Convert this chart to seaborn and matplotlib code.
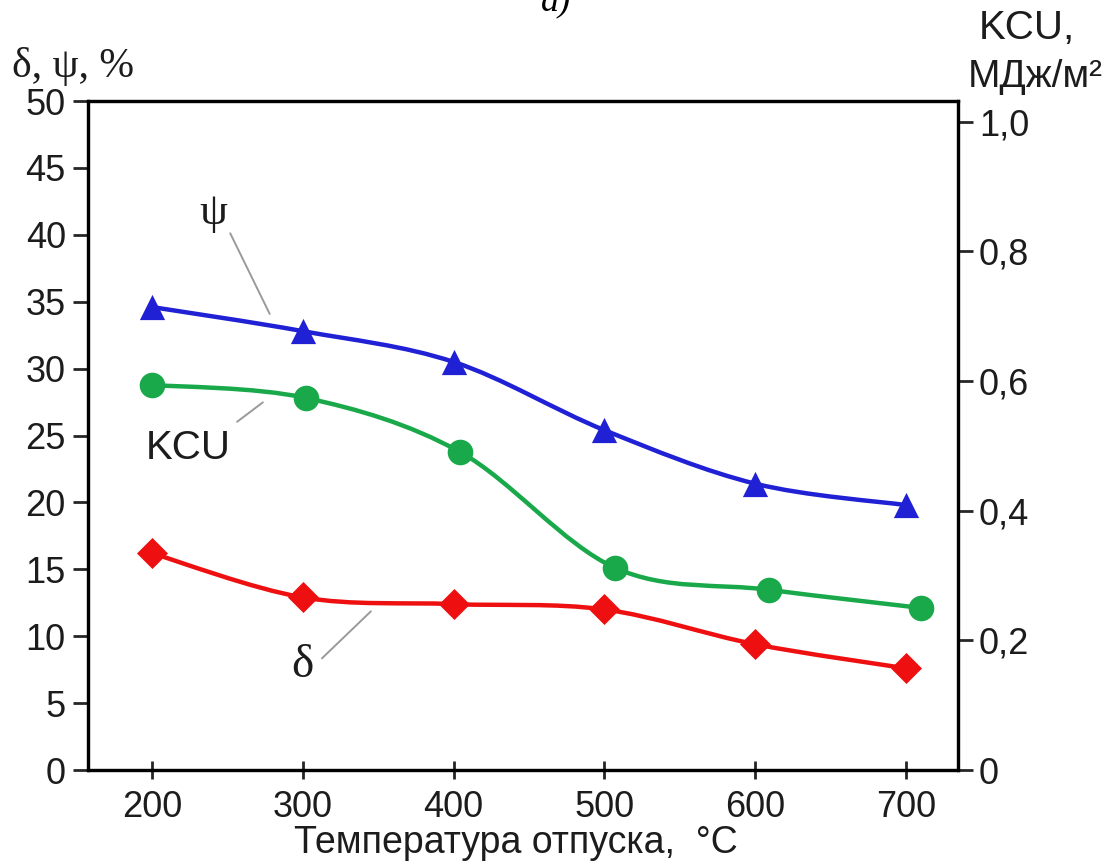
import matplotlib
matplotlib.use("Agg")
import matplotlib.pyplot as plt
from matplotlib.path import Path
from matplotlib.patches import PathPatch
from matplotlib.ticker import FuncFormatter
import numpy as np
import seaborn as sns

# values
temps = [200, 300, 400, 500, 600, 700]
psi = [34.6, 32.8, 30.5, 25.4, 21.4, 19.8]          # %, left axis
delta = [16.2, 12.9, 12.4, 12.0, 9.4, 7.6]          # %, left axis
kcu_temps = [200, 302, 404, 507, 609, 710]
kcu = [0.594, 0.574, 0.491, 0.312, 0.278, 0.250]    # MJ/m2, right axis

left_ticks = [0, 5, 10, 15, 20, 25, 30, 35, 40, 45, 50]
right_ticks = [0, 0.2, 0.4, 0.6, 0.8, 1.0]
x_ticks = [200, 300, 400, 500, 600, 700]

blue = "#2020d4"
green = "#19a94a"
red = "#ee1010"
txt = "#1c1c1c"

sns.set_style("ticks")
plt.rcParams["font.family"] = ["Liberation Sans", "DejaVu Sans"]


def smooth(ax, xs, ys, color):
    # Catmull-Rom curve through the points, drawn as a bezier path
    pts = np.column_stack([xs, ys]).astype(float)
    pad = np.vstack([pts[0], pts, pts[-1]])
    verts = [pts[0]]
    codes = [Path.MOVETO]
    for i in range(len(pts) - 1):
        p0, p1, p2, p3 = pad[i], pad[i + 1], pad[i + 2], pad[i + 3]
        verts += [p1 + (p2 - p0) / 6, p2 - (p3 - p1) / 6, p2]
        codes += [Path.CURVE4] * 3
    ax.add_patch(PathPatch(Path(verts, codes), facecolor="none",
                           edgecolor=color, lw=3.2, zorder=3))


fig = plt.figure(figsize=(11.18, 8.63), dpi=100)
ax = fig.add_axes([88 / 1118, 93 / 863, 870 / 1118, 669 / 863])
ax2 = ax.twinx()

smooth(ax, temps, psi, blue)
smooth(ax, temps, delta, red)
smooth(ax2, kcu_temps, kcu, green)

sns.scatterplot(x=temps, y=psi, ax=ax, marker="^", s=330, color=blue,
                linewidth=0, zorder=4)
sns.scatterplot(x=temps, y=delta, ax=ax, marker="D", s=250, color=red,
                linewidth=0, zorder=4)
sns.scatterplot(x=kcu_temps, y=kcu, ax=ax2, marker="o", s=340, color=green,
                linewidth=0, zorder=4)

ax.set_xlim(157.6, 734.5)
ax.set_ylim(0, 50)
ax2.set_ylim(0, 1.032)
ax.set_xticks(x_ticks)
ax.set_yticks(left_ticks)
ax2.set_yticks(right_ticks)
ax2.yaxis.set_major_formatter(
    FuncFormatter(lambda v, p: "0" if v == 0 else f"{v:.1f}".replace(".", ",")))

for a in (ax, ax2):
    for s in a.spines.values():
        s.set_linewidth(2.3)
        s.set_color("black")
        s.set_visible(True)
ax.tick_params(axis="y", direction="out", length=11, width=2.0, pad=5,
               labelsize=26, labelcolor=txt)
ax.tick_params(axis="x", direction="inout", length=13, width=2.0, pad=8,
               labelsize=26, labelcolor=txt)
ax2.tick_params(axis="y", direction="out", length=11, width=2.0, pad=4,
                labelsize=26, labelcolor=txt)

ax.set_xlabel("Температура отпуска,  °C", fontsize=27, color=txt)
ax.xaxis.label.set_va("baseline")
ax.xaxis.set_label_coords((516 - 88) / 870, (770 - 853) / 669)
ax.set_ylabel("")
ax2.set_ylabel("")

# axis captions
fig.text(12 / 1118, 1 - 66 / 863, "δ, ψ, %", fontsize=30, color=txt,
         family="Liberation Serif", ha="left", va="center")
fig.text(1027 / 1118, 1 - 28 / 863, "KCU,", fontsize=29, color=txt,
         ha="center", va="center")
fig.text(1035 / 1118, 1 - 77 / 863, "МДж/м²", fontsize=28, color=txt,
         ha="center", va="center")
fig.text(556 / 1118, 1 - 10 / 863, "а)", fontsize=26, color="black",
         family="Liberation Serif", style="italic", ha="center", va="baseline")

# curve labels with leader lines
lead = dict(arrowstyle="-", color="#9a9a9a", lw=1.4)
ax.text(240.5, 41.6, "ψ", fontsize=32, family="Liberation Serif",
        color=txt, ha="center", va="center")
ax.annotate("", xy=(278.9, 33.9), xytext=(251.1, 40.3), arrowprops=lead)
ax.text(224, 24.1, "KCU", fontsize=29, color=txt, ha="center", va="center")
ax.annotate("", xy=(275, 27.6), xytext=(255, 25.9), arrowprops=lead)
ax.text(299.5, 7.8, "δ", fontsize=34, family="Liberation Serif",
        color=txt, ha="center", va="center")
ax.annotate("", xy=(346.5, 12.0), xytext=(311.4, 8.2), arrowprops=lead)

fig.savefig("out.png", dpi=100)
